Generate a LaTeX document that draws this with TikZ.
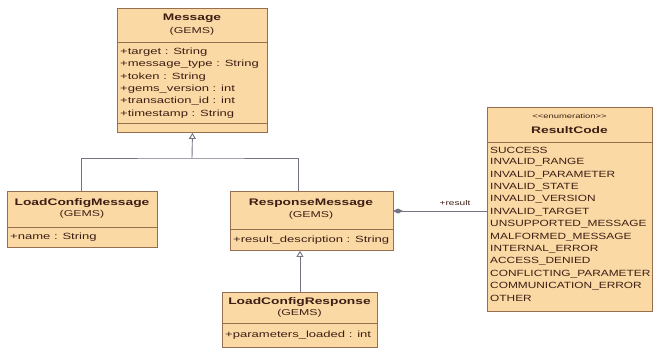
\documentclass[tikz,border=0pt]{standalone}
\usepackage{fontspec}
\setmainfont{Liberation Sans}[FakeStretch=1.45]
\newfontfamily\enumfont{Liberation Sans}[FakeStretch=1.32]
\usetikzlibrary{arrows.meta}
\definecolor{boxfill}{RGB}{250,217,165}
\definecolor{boxdraw}{RGB}{150,110,80}
\definecolor{txt}{RGB}{60,30,20}
\definecolor{conncol}{RGB}{115,115,130}
\begin{document}
\begin{tikzpicture}[x=1pt,y=-1pt,
 box/.style={draw=boxdraw, fill=boxfill, line width=0.9pt, inner sep=0pt, anchor=north west},
 sep/.style={draw=boxdraw, line width=0.8pt},
 title/.style={font=\fontsize{9.5}{11}\selectfont\bfseries, text=txt, inner sep=0pt, anchor=center},
 pkg/.style={font=\fontsize{8.5}{10}\selectfont, text=txt, inner sep=0pt, anchor=center},
 attr/.style={font=\fontsize{9}{11}\selectfont, text=txt, inner sep=0pt, anchor=west},
 enum/.style={font=\enumfont\fontsize{9}{11}\selectfont, text=txt, inner sep=0pt, anchor=west},
 conn/.style={draw=conncol, line width=0.9pt},
 gen/.style={conn, -{Triangle[open, length=6pt, width=7pt]}},
]
\useasboundingbox[fill=white] (0,0) rectangle (654,348);

% Message
\node[box, minimum width=150pt, minimum height=124pt] (msg) at (117,8) {};
\node[title] (msg-n) at (192,18) {Message};
\node[pkg] (msg-p) at (192,31) {(GEMS)};
\draw[sep] (117,42) -- (267,42);
\foreach \t [count=\i from 0] in {+target : String, +message\_type : String, +token : String, +gems\_version : int, +transaction\_id : int, +timestamp : String}
  \node[attr] (msg-a\i) at (120,{52+12.4*\i}) {\t};
\draw[sep] (117,123) -- (267,123);

% LoadConfigMessage
\node[box, minimum width=150pt, minimum height=56pt] (lcm) at (7,191) {};
\node[title] (lcm-n) at (82,203) {LoadConfigMessage};
\node[pkg] (lcm-p) at (82,214) {(GEMS)};
\draw[sep] (7,227) -- (157,227);
\node[attr] (lcm-a) at (10,237) {+name : String};

% ResponseMessage
\node[box, minimum width=163pt, minimum height=59pt] (rm) at (230,191) {};
\node[title] (rm-n) at (311,203) {ResponseMessage};
\node[pkg] (rm-p) at (311,215) {(GEMS)};
\draw[sep] (230,229) -- (393,229);
\node[attr] (rm-a) at (233,240) {+result\_description : String};

% LoadConfigResponse
\node[box, minimum width=155pt, minimum height=55pt] (lcr) at (222,292) {};
\node[title] (lcr-n) at (299.5,302) {LoadConfigResponse};
\node[pkg] (lcr-p) at (299.5,313) {(GEMS)};
\draw[sep] (222,323) -- (377,323);
\node[attr] (lcr-a) at (225,335) {+parameters\_loaded : int};

% ResultCode
\node[box, minimum width=165pt, minimum height=204pt] (rc) at (487,107) {};
\node[pkg, font=\fontsize{6.5}{8}\selectfont] (rc-s) at (569.5,116) {{<}{<}enumeration{>}{>}};
\node[title] (rc-n) at (569.5,130) {ResultCode};
\draw[sep] (487,142) -- (652,142);
\begin{scope}
\clip (487,107) rectangle (651,311);
\foreach \t [count=\i from 0] in {SUCCESS, INVALID\_RANGE, INVALID\_PARAMETER, INVALID\_STATE, INVALID\_VERSION, INVALID\_TARGET, UNSUPPORTED\_MESSAGE, MALFORMED\_MESSAGE, INTERNAL\_ERROR, ACCESS\_DENIED, CONFLICTING\_PARAMETER, COMMUNICATION\_ERROR, OTHER}
  \node[enum] (rc-\i) at (490,{150+12.4*\i}) {\t};
\end{scope}
\draw[draw=boxdraw, line width=0.9pt] (rc.north west) rectangle (rc.south east);

% generalizations
\coordinate (j) at (192,158);
\coordinate (lcmtop) at (81,191);
\coordinate (rmtop) at (298,191);
\draw[conn] (lcmtop) |- (j) -| (rmtop);
\draw[gen] (j) -- (msg.south);
\draw[gen] (lcr.north) -- (lcr.north |- rm.south);

% association
\coordinate (a1) at (393,211);
\coordinate (a2) at (487,211);
\draw[conn, {Diamond[length=10pt,width=5pt]}-] (a1) -- (a2);
\node[font=\fontsize{7}{8}\selectfont, text=txt, inner sep=0pt] (reslbl) at (455,203) {+result};
\end{tikzpicture}
\end{document}
